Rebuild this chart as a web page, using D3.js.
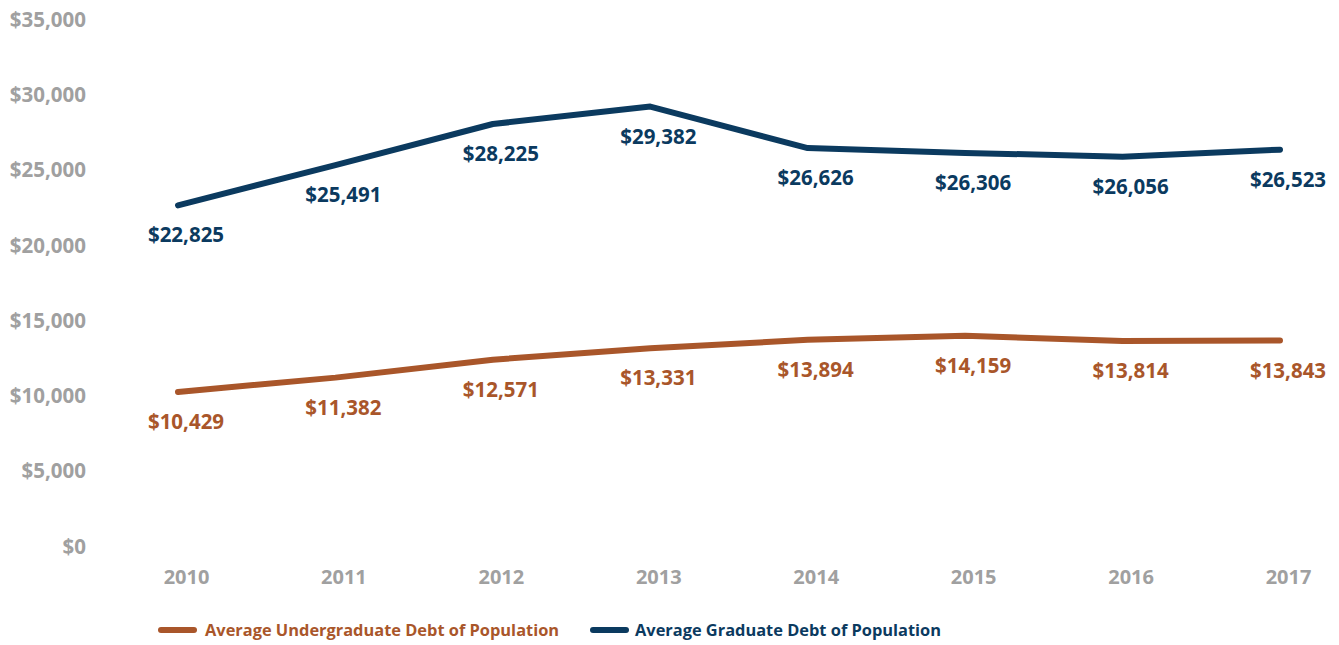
<!DOCTYPE html>
<html>
<head>
<meta charset="utf-8">
<script src="https://cdn.jsdelivr.net/npm/d3@7"></script>
<style>
    body { margin: 0; background: #fff; }
    svg { display: block; font-family: "Open Sans", "Noto Sans", sans-serif; font-weight: 700; }
</style>
</head>
<body>
<div id="chart"></div>
<script>
// chart data
let years = ["2010", "2011", "2012", "2013", "2014", "2015", "2016", "2017"];
let undergradDebt = [10429, 11382, 12571, 13331, 13894, 14159, 13814, 13843];
let gradDebt = [22825, 25491, 28225, 29382, 26626, 26306, 26056, 26523];
let yTicks = [0, 5000, 10000, 15000, 20000, 25000, 30000, 35000];
let seriesNames = ["Average Undergraduate Debt of Population", "Average Graduate Debt of Population"];

let colors = ["#a9562a", "#0b3a5f"];
let axisGray = "#a0a0a0";

let w = 1339;
let h = 645;

let svg = d3.select("#chart")
    .append("svg")
    .attr("width", w)
    .attr("height", h);

let xScale = d3.scalePoint()
    .domain(years)
    .range([178, 1280]);

let yScale = d3.scaleLinear()
    .domain([0, 35000])
    .range([549, 22]);

let money = d3.format("$,");

// y axis (labels only, no line, no gridlines)
let yaxis = svg.append("g")
    .attr("transform", "translate(86,-3)")
    .call(d3.axisLeft(yScale).tickValues(yTicks).tickFormat(money).tickSize(0).tickPadding(0));
yaxis.select(".domain").remove();
yaxis.selectAll("text")
    .attr("fill", axisGray)
    .attr("dy", "0.35em")
    .style("font-family", "'Open Sans', sans-serif")
    .style("font-weight", 700)
    .style("font-size", "20.5px");

// x axis
let xaxis = svg.append("g")
    .attr("transform", "translate(8,577)")
    .call(d3.axisBottom(xScale).tickSize(0).tickPadding(0));
xaxis.select(".domain").remove();
xaxis.selectAll("text")
    .attr("fill", axisGray)
    .attr("dy", "0.35em")
    .style("font-family", "'Open Sans', sans-serif")
    .style("font-weight", 700)
    .style("font-size", "20px");

let series = [undergradDebt, gradDebt];

let line = d3.line()
    .x((d, i) => xScale(years[i]))
    .y(d => yScale(d));

series.forEach((vals, s) => {
    svg.append("path")
        .datum(vals)
        .attr("d", line)
        .attr("fill", "none")
        .attr("stroke", colors[s])
        .attr("stroke-width", 6)
        .attr("stroke-linejoin", "round")
        .attr("stroke-linecap", "round");

    svg.append("g")
        .selectAll("text")
        .data(vals)
        .enter()
        .append("text")
        .attr("x", (d, i) => xScale(years[i]) + 8)
        .attr("y", d => yScale(d) + 30)
        .attr("dy", "0.35em")
        .attr("text-anchor", "middle")
        .attr("fill", colors[s])
        .style("font-size", "20.5px")
        .text(d => money(d));
});

// legend
let legendX = [158, 590];
let legend = svg.append("g")
    .selectAll("g")
    .data(seriesNames)
    .enter()
    .append("g")
    .attr("transform", (d, i) => "translate(" + legendX[i] + ",630)");

legend.append("line")
    .attr("x1", 3)
    .attr("x2", 36)
    .attr("stroke", (d, i) => colors[i])
    .attr("stroke-width", 6)
    .attr("stroke-linecap", "round");

legend.append("text")
    .attr("x", (d, i) => i == 0 ? 47 : 45)
    .attr("dy", "0.35em")
    .attr("fill", (d, i) => colors[i])
    .style("font-size", "16.4px")
    .text(d => d);
</script>
</body>
</html>
